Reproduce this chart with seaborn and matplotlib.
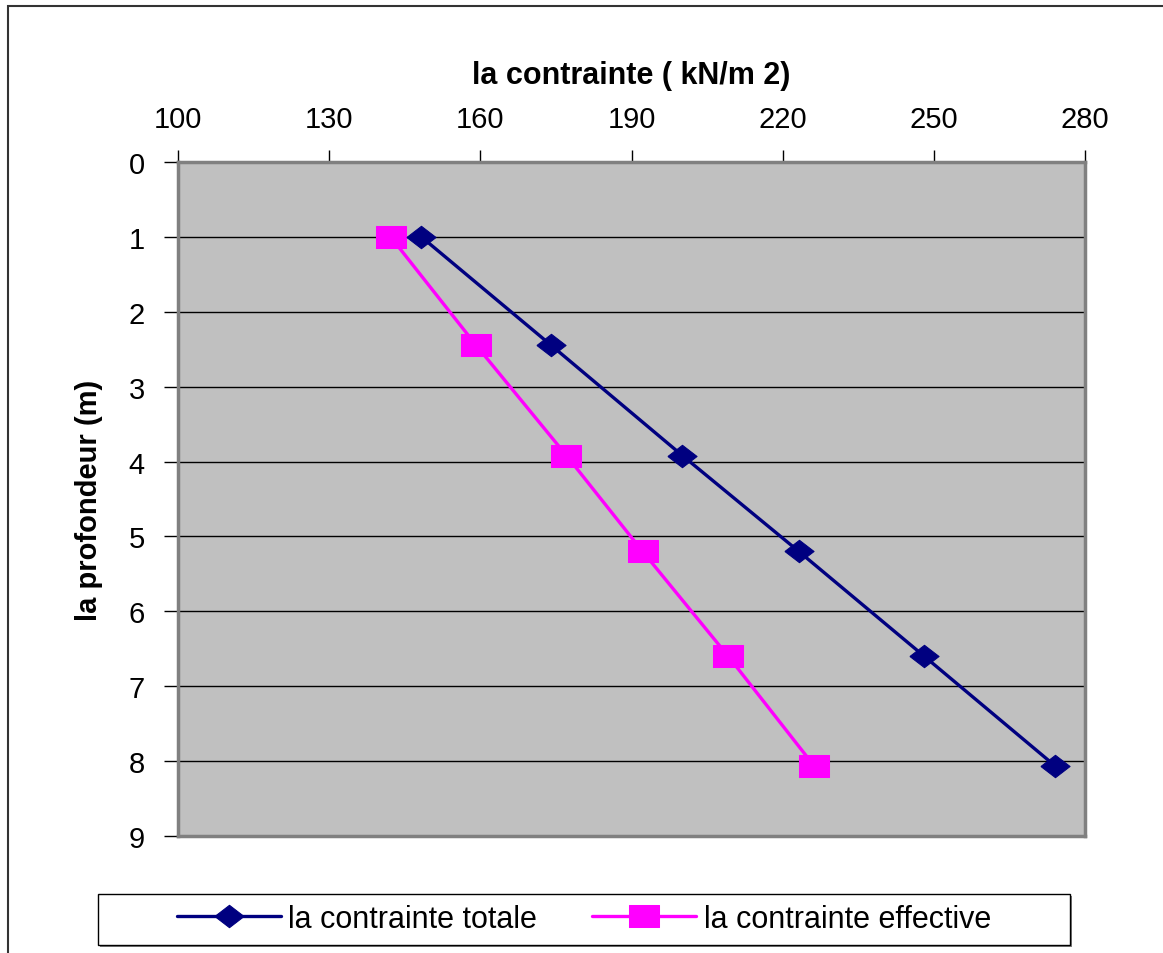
import numpy as np
import pandas as pd
import seaborn as sns
import matplotlib.pyplot as plt
from matplotlib.patches import Rectangle

# donnees
profondeur = [1.0, 2.45, 3.92, 5.2, 6.6, 8.06]
contrainte_totale = [148.3, 174.1, 200.1, 223.2, 248.1, 274.0]
contrainte_effective = [142.2, 159.2, 177.1, 192.2, 209.2, 226.2]

x_ticks = [100, 130, 160, 190, 220, 250, 280]
y_ticks = list(range(0, 10))

sns.set_style('white')
plt.rcParams['font.family'] = ['Liberation Sans', 'DejaVu Sans']
plt.rcParams['text.color'] = 'black'
plt.rcParams['axes.labelcolor'] = 'black'
plt.rcParams['xtick.color'] = 'black'
plt.rcParams['ytick.color'] = 'black'

fig = plt.figure(figsize=(11.63, 9.54), dpi=100)
ax = fig.add_axes([178/1163, 1-837/954, (1085-178)/1163, (837-163)/954])
ax.set_facecolor('#C0C0C0')

diamant = [(-1.3, 0), (0, 1), (1.3, 0), (0, -1), (-1.3, 0)]
carre = [(-1.3, -1), (1.3, -1), (1.3, 1), (-1.3, 1), (-1.3, -1)]

df_tot = pd.DataFrame({'x': contrainte_totale, 'y': profondeur})
df_eff = pd.DataFrame({'x': contrainte_effective, 'y': profondeur})

sns.lineplot(data=df_tot, x='x', y='y', sort=False, ax=ax, color='#000080',
             linewidth=2.4, marker=diamant, markersize=21, markeredgecolor='#000080',
             label='la contrainte totale', zorder=4)
sns.lineplot(data=df_eff, x='x', y='y', sort=False, ax=ax, color='#FF00FF',
             linewidth=2.4, marker=carre, markersize=21, markeredgecolor='#FF00FF',
             label='la contrainte effective', zorder=3)

ax.set_xlim(100, 280)
ax.set_ylim(9, 0)
ax.set_xticks(x_ticks)
ax.set_yticks(y_ticks)
ax.xaxis.tick_top()
ax.xaxis.set_label_position('top')
ax.tick_params(axis='x', which='major', direction='out', length=9, width=1,
               labelsize=21, pad=12, top=True, bottom=False)
ax.tick_params(axis='y', which='major', direction='out', length=10, width=1,
               labelsize=21, pad=14, left=True)
ax.grid(axis='y', color='black', linewidth=1)
ax.grid(axis='x', visible=False)
for s in ax.spines.values():
    s.set_color('#808080')
    s.set_linewidth(2.5)

ax.set_xlabel('la contrainte ( kN/m 2)', fontsize=22, fontweight='bold', labelpad=16)
ax.set_ylabel('la profondeur (m)', fontsize=21, fontweight='bold', labelpad=18)

ax.get_legend().remove()
h, l = ax.get_legend_handles_labels()
leg = fig.legend(h, l, loc='center', bbox_to_anchor=(584/1163, 1-920/954),
                 ncol=2, fontsize=22, frameon=False, handlelength=3.4,
                 handletextpad=0.25, columnspacing=1.8, borderpad=0.2)

# boite de la legende (plus large que le texte, comme l'original)
ombre = Rectangle((100/1163, 1-948/954), 972/1163, 51/954, transform=fig.transFigure,
                  facecolor='#808080', edgecolor='none', zorder=0)
boite = Rectangle((98/1163, 1-946/954), 972/1163, 51/954, transform=fig.transFigure,
                  facecolor='white', edgecolor='black', linewidth=1, zorder=0.5)
fig.patches.extend([ombre, boite])

# cadre du graphique
fig.patches.append(Rectangle((8/1163, -0.05), 1.2, 1-7/954+0.05, transform=fig.transFigure,
                             fill=False, edgecolor='#333333', linewidth=1.5))

fig.savefig('out.png', dpi=100)
